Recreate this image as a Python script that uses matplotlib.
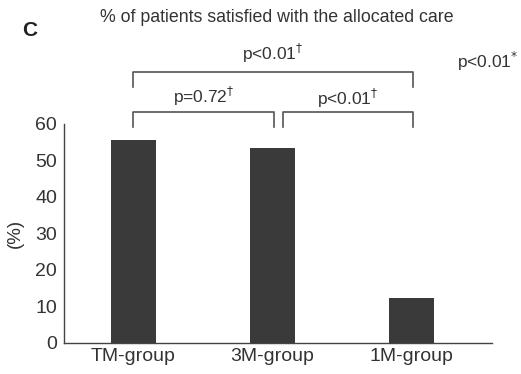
import matplotlib

matplotlib.use("Agg")
import matplotlib.pyplot as plt
import numpy as np

plt.rcParams["font.family"] = ["Liberation Sans", "DejaVu Sans"]
plt.rcParams["mathtext.fontset"] = "dejavusans"

GROUPS = ["TM-group", "3M-group", "1M-group"]
SATISFIED = [55.6, 53.3, 12.2]
YTICKS = [0, 10, 20, 30, 40, 50, 60]

# pairwise comparisons: (left bar, right bar, label)
PAIRS = [(0, 1, r"p=0.72$^{\dagger}$"),
         (1, 2, r"p<0.01$^{\dagger}$"),
         (0, 2, r"p<0.01$^{\dagger}$")]
OVERALL = r"p<0.01$^{*}$"

TEXT = "#333333"
BAR = "#3a3a3a"
LINE = "#555555"
PFS = 12.5

fig = plt.figure(figsize=(5.21, 3.74), dpi=100)
ax = fig.add_axes([0.1228, 0.084, 0.8215, 0.585])

x = np.arange(len(GROUPS))
ax.bar(x, SATISFIED, width=0.32, color=BAR)
ax.set_xlim(-0.5, 2.58)
ax.set_ylim(0, 60)
ax.set_xticks(x, GROUPS)
ax.set_yticks(YTICKS)
ax.tick_params(length=0, labelsize=14, colors=TEXT)
ax.tick_params(axis="y", pad=5)
ax.tick_params(axis="x", pad=4)
for s in ("top", "right"):
    ax.spines[s].set_visible(False)
for s in ("left", "bottom"):
    ax.spines[s].set_color("#444444")
    ax.spines[s].set_linewidth(1.0)
ax.set_ylabel("(%)", fontsize=13.5, color=TEXT, labelpad=8)


def bracket(x0, x1, top, drop, label, ty):
    ax.plot([x0, x0, x1, x1], [top - drop, top, top, top - drop],
            color=LINE, lw=1.2, clip_on=False)
    ax.text((x0 + x1) / 2, ty, label, ha="center", va="center",
            fontsize=PFS, color=TEXT, clip_on=False)


# short pairs sit on the lower row, the long pair above them
lo, hi = 63.3, 74.3
a, b, lab = PAIRS[0]
bracket(a, b + 0.01, lo, 4.1, lab, 67.6)
a, b, lab = PAIRS[1]
bracket(a + 0.075, b + 0.01, lo, 4.1, lab, 67.0)
a, b, lab = PAIRS[2]
bracket(a, b + 0.01, hi, 4.1, lab, 79.2)
ax.text(2.55, 77.0, OVERALL, ha="center", va="center", fontsize=PFS,
        color=TEXT, clip_on=False)

fig.text(277 / 521, 1 - 17 / 374, "% of patients satisfied with the allocated care",
         ha="center", va="center", fontsize=12.8, color=TEXT)
fig.text(30 / 521, 1 - 31 / 374, "C", ha="center", va="center",
         fontsize=15, fontweight="bold", color="#222222")

fig.savefig("out.png", dpi=100)
